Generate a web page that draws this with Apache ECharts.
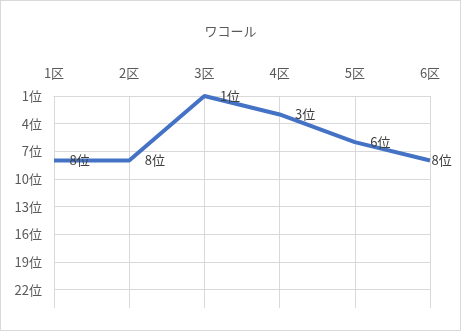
<!DOCTYPE html>
<html><head><meta charset="utf-8">
<script src="https://cdn.jsdelivr.net/npm/echarts@6/dist/echarts.min.js"></script>
<style>html,body{margin:0;padding:0;background:#fff}
#c{width:461px;height:331px;box-sizing:border-box;border:1px solid #d9d9d9;}</style>
</head><body><div id="c"></div>
<script>
var title = 'ワコール';
var categories = ['1区','2区','3区','4区','5区','6区'];
var ranks = [8, 8, 1, 3, 6, 8];
var rankTop = 1, rankBottom = 24, rankStep = 3;

var chart = echarts.init(document.getElementById('c'));
var font = '"Noto Sans CJK JP", "Noto Sans", sans-serif';
chart.setOption({
  animation: false,
  title: {text: title, left: 'center', top: 19, textStyle: {fontFamily: font, fontSize: 13, fontWeight: 'normal', color: '#595959'}},
  grid: {left: 53, right: 30, top: 95, bottom: 22},
  xAxis: {
    type: 'category', data: categories, position: 'top', boundaryGap: false,
    axisLine: {show: true, lineStyle: {color: '#d9d9d9'}},
    axisTick: {show: false},
    axisLabel: {color: '#595959', fontSize: 13, fontFamily: font, margin: 16},
    splitLine: {show: true, lineStyle: {color: '#d9d9d9'}}
  },
  yAxis: {
    type: 'value', inverse: true, min: 0, max: rankBottom - rankTop, interval: rankStep,
    axisLine: {show: false}, axisTick: {show: false},
    axisLabel: {color: '#595959', fontSize: 13, fontFamily: font, margin: 12, showMaxLabel: false,
      formatter: function (v) { return (v + rankTop) + '位'; }},
    splitLine: {show: true, showMaxLine: false, lineStyle: {color: '#d9d9d9'}}
  },
  series: [{
    type: 'line', showSymbol: true, symbol: 'circle', symbolSize: 1,
    itemStyle: {color: 'rgba(0,0,0,0)'},
    data: ranks.map(function (r, i) {
      var d = {value: r - rankTop};
      if (i === ranks.length - 1) d.label = {distance: 1};
      return d;
    }),
    lineStyle: {color: '#4472C4', width: 4},
    label: {show: true, position: 'right', distance: 15, color: '#404040', fontSize: 13, fontFamily: font,
      formatter: function (p) { return ranks[p.dataIndex] + '位'; }}
  }]
});
</script></body></html>
